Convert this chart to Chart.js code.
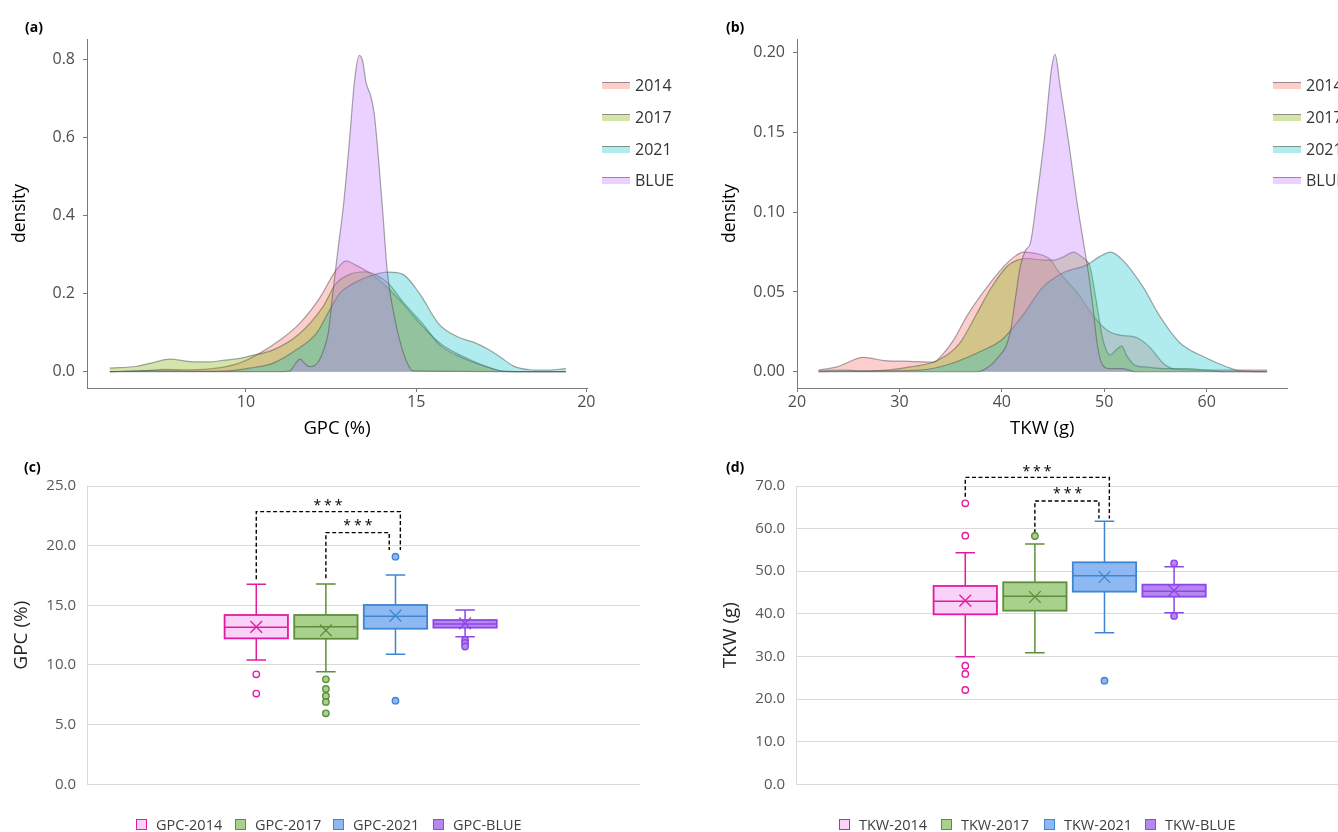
<!DOCTYPE html>
<html>
<head>
<meta charset="utf-8">
<script src="https://cdn.jsdelivr.net/npm/chart.js@4.4.1/dist/chart.umd.min.js"></script>
<style>
  html, body { margin: 0; padding: 0; background: #fff; }
  #fig { position: relative; width: 1338px; height: 832px; overflow: hidden; font-family: 'Open Sans', sans-serif; }
  #fig canvas { position: absolute; }
  .tag { position: absolute; font-weight: bold; font-size: 14px; line-height: 1; color: #000; }
  .dkey { position: absolute; font-size: 16px; line-height: 20px; color: #333; white-space: nowrap; }
  .dkey i { position: absolute; left: -33px; top: 7px; width: 28px; height: 6px; border-top: 1.5px solid rgba(90, 90, 90, 0.6); }
  .bkey { position: absolute; font-size: 14.5px; line-height: 16px; color: #404040; white-space: nowrap; }
  .bkey i { position: absolute; left: -20px; top: 2px; width: 9px; height: 9px; border: 1.5px solid; }
</style>
</head>
<body>
<div id="fig">
  <canvas id="gpcDensity" width="680" height="450" style="left:0;top:0"></canvas>
  <canvas id="tkwDensity" width="680" height="450" style="left:710px;top:0"></canvas>
  <canvas id="gpcBox" width="680" height="382" style="left:0;top:450px"></canvas>
  <canvas id="tkwBox" width="680" height="382" style="left:709px;top:450px"></canvas>
  <div class="tag" style="left:25px;top:20px">(a)</div>
  <div class="tag" style="left:726px;top:20px">(b)</div>
  <div class="tag" style="left:24px;top:460px">(c)</div>
  <div class="tag" style="left:726px;top:460px">(d)</div>
</div>
<script>
const groups = ['2014', '2017', '2021', 'BLUE'];

// (a) GPC density curves
const gpc2014X = [6.0, 7.0, 7.6, 8.3, 9.2, 9.8, 10.4, 11.0, 11.58, 12.16, 12.65, 12.94, 13.23, 13.72, 14.1, 14.6, 15.2, 15.7, 16.4, 17.2, 17.6, 19.4];
const gpc2014Y = [0.0, 0.002, 0.006, 0.005, 0.01, 0.022, 0.047, 0.081, 0.124, 0.188, 0.26, 0.284, 0.273, 0.248, 0.22, 0.175, 0.115, 0.073, 0.038, 0.009, 0.001, 0.0];
const gpc2017X = [6.0, 6.8, 7.3, 7.76, 8.35, 8.9, 9.33, 9.82, 10.1, 10.8, 11.58, 12.26, 12.65, 13.14, 13.5, 13.82, 14.2, 14.6, 15.2, 15.7, 16.4, 17.1, 17.6, 19.4];
const gpc2017Y = [0.009, 0.014, 0.024, 0.032, 0.026, 0.025, 0.029, 0.034, 0.04, 0.056, 0.098, 0.166, 0.226, 0.252, 0.256, 0.248, 0.225, 0.18, 0.122, 0.068, 0.034, 0.012, 0.001, 0.0];
const gpc2021X = [6.0, 7.0, 8.0, 9.0, 9.6, 10.1, 10.8, 11.48, 12.07, 12.46, 12.75, 13.24, 13.9, 14.2, 14.6, 15.1, 15.67, 16.2, 16.7, 17.1, 17.5, 17.85, 18.35, 18.8, 19.4];
const gpc2021Y = [0.0, 0.003, 0.002, 0.001, 0.003, 0.009, 0.022, 0.056, 0.098, 0.158, 0.2, 0.23, 0.252, 0.255, 0.25, 0.2, 0.122, 0.09, 0.075, 0.058, 0.036, 0.015, 0.005, 0.004, 0.008];
const gpcBlueX = [6.0, 11.1, 11.29, 11.45, 11.58, 11.72, 11.87, 12.02, 12.16, 12.3, 12.42, 12.55, 12.7, 12.87, 13.04, 13.19, 13.33, 13.43, 13.53, 13.67, 13.77, 13.87, 14.01, 14.16, 14.4, 14.55, 14.7, 14.9, 19.4];
const gpcBlueY = [0.0, 0.0, 0.002, 0.02, 0.032, 0.022, 0.013, 0.016, 0.03, 0.06, 0.1, 0.2, 0.31, 0.43, 0.59, 0.745, 0.81, 0.795, 0.74, 0.705, 0.66, 0.57, 0.42, 0.25, 0.124, 0.07, 0.03, 0.002, 0.0];
const gpcDensityXTicks = [10, 15, 20];
const gpcDensityYTicks = [0, 0.2, 0.4, 0.6, 0.8];

// (b) TKW density curves
const tkw2014X = [22.1, 23.9, 26.5, 28.5, 31, 33.3, 34.3, 35.3, 36.6, 38.2, 40.2, 41.2, 42.1, 43.4, 44.8, 45.4, 47.3, 49.3, 50.5, 51.5, 53.3, 54.5, 55.8, 57, 60, 63, 65.9];
const tkw2014Y = [0.001, 0.003, 0.009, 0.007, 0.0065, 0.006, 0.0115, 0.02, 0.035, 0.05, 0.066, 0.072, 0.075, 0.074, 0.07, 0.064, 0.05, 0.032, 0.025, 0.023, 0.021, 0.015, 0.005, 0.0015, 0.001, 0.001, 0.001];
const tkw2017X = [22.1, 28.8, 31, 33.7, 35.9, 37.6, 38.9, 40.5, 41.5, 42.5, 44, 45, 46, 47, 47.6, 48.2, 48.6, 49.2, 49.8, 50.3, 50.6, 51.2, 51.7, 52.2, 53, 54, 56, 58, 60, 62, 65.9];
const tkw2017Y = [0.0, 0.001, 0.003, 0.007, 0.018, 0.037, 0.052, 0.066, 0.07, 0.071, 0.07, 0.07, 0.072, 0.075, 0.073, 0.07, 0.066, 0.045, 0.022, 0.012, 0.0105, 0.014, 0.016, 0.01, 0.004, 0.003, 0.002, 0.002, 0.001, 0.0, 0.0];
const tkw2021X = [22.1, 24.5, 27, 32, 35, 38, 40, 42, 44, 46, 48.3, 49.5, 50.6, 51.8, 53.8, 55.4, 57.4, 59.7, 62, 63.3, 65.9];
const tkw2021Y = [0.0005, 0.001, 0.0005, 0.001, 0.005, 0.013, 0.02, 0.035, 0.053, 0.062, 0.067, 0.072, 0.075, 0.07, 0.053, 0.035, 0.018, 0.0094, 0.003, 0.0005, 0.0];
const tkwBlueX = [22.1, 37.5, 38.2, 39.5, 40.8, 41.3, 41.8, 42.3, 42.8, 43.4, 44.2, 44.85, 45.2, 45.67, 46.5, 47.3, 48.1, 48.5, 48.9, 49.3, 49.7, 50.5, 51.8, 53, 65.9];
const tkwBlueY = [0.0, 0.0, 0.001, 0.008, 0.024, 0.045, 0.066, 0.076, 0.081, 0.108, 0.149, 0.19, 0.199, 0.18, 0.145, 0.108, 0.076, 0.06, 0.04, 0.018, 0.006, 0.002, 0.002, 0.0, 0.0];
const tkwDensityXTicks = [20, 30, 40, 50, 60];
const tkwDensityYTicks = [0, 0.05, 0.1, 0.15, 0.2];

// (c) GPC boxes: lower whisker, Q1, median, Q3, upper whisker
const gpcBoxNames = ['GPC-2014', 'GPC-2017', 'GPC-2021', 'GPC-BLUE'];
const gpcBox2014 = [10.42, 12.23, 13.16, 14.19, 16.76];
const gpcBox2017 = [9.44, 12.2, 13.21, 14.19, 16.79];
const gpcBox2021 = [10.89, 13.04, 14.08, 15.03, 17.54];
const gpcBoxBlue = [12.37, 13.13, 13.44, 13.77, 14.61];
const gpcMeans = [13.2, 12.9, 14.13, 13.49];
const gpcOut2014 = [9.22, 7.6];
const gpcOut2017 = [8.8, 7.99, 7.4, 6.9, 5.95];
const gpcOut2021 = [19.08, 7.01];
const gpcOutBlue = [12.1, 11.85, 11.55];
const gpcOuterBracketX = [1, 1, 3.07, 3.07];
const gpcOuterBracketY = [17.18, 22.85, 22.85, 19.64];
const gpcInnerBracketX = [2, 2, 2.91, 2.91];
const gpcInnerBracketY = [17.26, 21.09, 21.09, 19.64];
const gpcStarX = [2.03, 2.46];
const gpcStarY = [23.6, 21.9];
const gpcBoxTicks = [0, 5, 10, 15, 20, 25];

// (d) TKW boxes
const tkwBoxNames = ['TKW-2014', 'TKW-2017', 'TKW-2021', 'TKW-BLUE'];
const tkwBox2014 = [29.95, 39.89, 42.94, 46.54, 54.36];
const tkwBox2017 = [30.89, 40.75, 44.11, 47.4, 56.39];
const tkwBox2021 = [35.59, 45.21, 48.96, 52.09, 61.71];
const tkwBoxBlue = [40.28, 44.03, 45.28, 46.85, 51.07];
const tkwMeans = [43.1, 43.95, 48.65, 45.43];
const tkwOut2014 = [65.93, 58.35, 27.84, 25.89, 22.13];
const tkwOut2017 = [58.27];
const tkwOut2021 = [24.32];
const tkwOutBlue = [51.85, 39.5];
const tkwOuterBracketX = [1, 1, 3.07, 3.07];
const tkwOuterBracketY = [67.5, 72.03, 72.03, 62.4];
const tkwInnerBracketX = [2, 2, 2.92, 2.92];
const tkwInnerBracketY = [58.9, 66.48, 66.48, 62.4];
const tkwStarX = [2.03, 2.47];
const tkwStarY = [73.9, 68.9];
const tkwBoxTicks = [0, 10, 20, 30, 40, 50, 60, 70];

// styling
const densityFills = ['rgba(248,118,109,0.35)', 'rgba(124,174,0,0.33)', 'rgba(0,191,196,0.31)', 'rgba(199,124,255,0.35)'];
const boxStrokes = ['#E31BA0', '#5E8E3A', '#3F86D2', '#8E46E8'];
const boxFills = ['#FAD2F8', '#A9D18E', '#8EB8F2', '#B687F2'];
const outlierFills = ['#FFFFFF', '#A9D18E', '#8EB8F2', '#B687F2'];
const FONT = "'Open Sans', sans-serif";
const BOX_HALF = 0.455;
const CAP_HALF = 0.14;

const pts = (xs, ys) => xs.map((v, k) => ({ x: v, y: ys[k] }));
const fixTicks = list => scale => { scale.ticks = list.map(v => ({ value: v })); };

function densityChart(id, series, xr, yr, xTicks, yTicks, yDec, xTitle, padRight) {
  return new Chart(document.getElementById(id), {
    type: 'line',
    data: {
      datasets: series.map((s, i) => ({
        label: groups[i],
        data: pts(s[0], s[1]),
        fill: 'origin',
        backgroundColor: densityFills[i],
        borderColor: 'rgba(80,80,80,0.5)',
        borderWidth: 1.2,
        pointRadius: 0,
        cubicInterpolationMode: 'monotone',
        order: 3 - i,
      })),
    },
    options: {
      responsive: false,
      animation: false,
      events: [],
      layout: { padding: { left: 0, top: 39, right: padRight, bottom: 0 } },
      plugins: { legend: { display: false }, tooltip: { enabled: false } },
      scales: {
        x: {
          type: 'linear', min: xr[0], max: xr[1],
          afterBuildTicks: fixTicks(xTicks),
          afterFit: s => { s.height = 62; },
          grid: { drawOnChartArea: false, tickLength: 4, color: '#7a7a7a' },
          border: { color: '#7a7a7a', width: 1 },
          ticks: { color: '#4D4D4D', font: { family: FONT, size: 16 }, padding: 1 },
          title: { display: true, text: xTitle, color: '#000', font: { family: FONT, size: 18.5 }, padding: { top: 0, bottom: 10.5 } },
        },
        y: {
          type: 'linear', min: yr[0], max: yr[1],
          afterBuildTicks: fixTicks(yTicks),
          afterFit: s => { s.width = 87; },
          grid: { drawOnChartArea: false, tickLength: 4, color: '#7a7a7a' },
          border: { color: '#7a7a7a', width: 1 },
          ticks: { color: '#4D4D4D', font: { family: FONT, size: 16 }, padding: 8, callback: v => v.toFixed(yDec) },
          title: { display: true, text: 'density', color: '#000', font: { family: FONT, size: 17.5 }, padding: { top: 9.5, bottom: 0 } },
        },
      },
    },
  });
}

function boxPlugin(boxes, starX, starY) {
  return {
    id: 'boxes',
    beforeDatasetsDraw(chart) {
      const { ctx, scales: { x, y } } = chart;
      ctx.save();
      boxes.forEach((b, i) => {
        const [lo, q1, med, q3, hi] = b.map(v => y.getPixelForValue(v));
        const cx = x.getPixelForValue(i + 1);
        const hw = x.getPixelForValue(i + 1 + BOX_HALF) - cx;
        const cw = x.getPixelForValue(i + 1 + CAP_HALF) - cx;
        ctx.strokeStyle = boxStrokes[i];
        ctx.lineWidth = 1.5;
        ctx.beginPath();
        ctx.moveTo(cx, hi); ctx.lineTo(cx, q3);
        ctx.moveTo(cx, q1); ctx.lineTo(cx, lo);
        ctx.moveTo(cx - cw, hi); ctx.lineTo(cx + cw, hi);
        ctx.moveTo(cx - cw, lo); ctx.lineTo(cx + cw, lo);
        ctx.stroke();
        ctx.fillStyle = boxFills[i];
        ctx.fillRect(cx - hw, q3, 2 * hw, q1 - q3);
        ctx.lineWidth = 1.8;
        ctx.strokeRect(cx - hw, q3, 2 * hw, q1 - q3);
        ctx.lineWidth = 1.5;
        ctx.beginPath();
        ctx.moveTo(cx - hw, med); ctx.lineTo(cx + hw, med);
        ctx.stroke();
      });
      ctx.restore();
    },
    afterDatasetsDraw(chart) {
      const { ctx, scales: { x, y } } = chart;
      ctx.save();
      ctx.fillStyle = '#000';
      ctx.font = '14px ' + FONT;
      ctx.textAlign = 'center';
      ctx.textBaseline = 'middle';
      ctx.letterSpacing = '3px';
      starX.forEach((sx, k) => {
        ctx.fillText('***', x.getPixelForValue(sx) + 1.5, y.getPixelForValue(starY[k]) + 3);
      });
      ctx.restore();
    },
  };
}

function boxChart(id, boxes, means, outliers, brackets, starX, starY, yMax, yTicks, yTitle) {
  const datasets = [];
  outliers.forEach((list, i) => {
    datasets.push({
      data: list.map(v => ({ x: i + 1, y: v })),
      pointStyle: 'circle', pointRadius: 3.2, borderWidth: 1.4,
      borderColor: boxStrokes[i], backgroundColor: outlierFills[i], clip: false,
    });
  });
  datasets.push({
    data: means.map((v, i) => ({ x: i + 1, y: v })),
    pointStyle: 'crossRot', pointRadius: 8.3, borderWidth: 1.3,
    borderColor: boxStrokes, backgroundColor: boxStrokes, clip: false,
  });
  brackets.forEach(([bx, by]) => {
    datasets.push({
      data: pts(bx, by), showLine: true, pointRadius: 0,
      borderColor: '#000', borderWidth: 1.4, borderDash: [4, 2.5], clip: false,
    });
  });
  return new Chart(document.getElementById(id), {
    type: 'scatter',
    data: { datasets },
    options: {
      responsive: false,
      animation: false,
      events: [],
      layout: { padding: { left: 0, top: 36, right: 40, bottom: 47.7 } },
      plugins: { legend: { display: false }, tooltip: { enabled: false } },
      scales: {
        x: { type: 'linear', min: -1.432, max: 6.513, display: false },
        y: {
          type: 'linear', min: 0, max: yMax,
          afterBuildTicks: fixTicks(yTicks),
          afterFit: s => { s.width = 87; },
          grid: { color: '#D9D9D9', drawTicks: false, lineWidth: 1 },
          border: { color: '#D9D9D9', width: 1 },
          ticks: { color: '#595959', font: { family: FONT, size: 15 }, padding: 11, callback: v => v.toFixed(1) },
          title: { display: true, text: yTitle, color: '#262626', font: { family: FONT, size: 19 }, padding: { top: 10.6, bottom: 0 } },
        },
      },
    },
    plugins: [boxPlugin(boxes, starX, starY)],
  });
}

function densityLegend(left) {
  const tops = [75, 107, 139, 170];
  groups.forEach((g, i) => {
    const d = document.createElement('div');
    d.className = 'dkey';
    d.style.left = left + 'px';
    d.style.top = tops[i] + 'px';
    d.innerHTML = '<i style="background:' + densityFills[i] + '"></i>' + g;
    document.getElementById('fig').appendChild(d);
  });
}

function boxLegend(names, lefts) {
  names.forEach((n, i) => {
    const d = document.createElement('div');
    d.className = 'bkey';
    d.style.left = lefts[i] + 'px';
    d.style.top = '817px';
    d.innerHTML = '<i style="background:' + boxFills[i] + ';border-color:' + boxStrokes[i] + '"></i>' + n;
    document.getElementById('fig').appendChild(d);
  });
}

densityChart('gpcDensity',
  [[gpc2014X, gpc2014Y], [gpc2017X, gpc2017Y], [gpc2021X, gpc2021Y], [gpcBlueX, gpcBlueY]],
  [5.33, 20.02], [-0.0417, 0.852], gpcDensityXTicks, gpcDensityYTicks, 1, 'GPC (%)', 93);
densityChart('tkwDensity',
  [[tkw2014X, tkw2014Y], [tkw2017X, tkw2017Y], [tkw2021X, tkw2021Y], [tkwBlueX, tkwBlueY]],
  [20, 67.9], [-0.0102, 0.2086], tkwDensityXTicks, tkwDensityYTicks, 2, 'TKW (g)', 102.4);

boxChart('gpcBox', [gpcBox2014, gpcBox2017, gpcBox2021, gpcBoxBlue], gpcMeans,
  [gpcOut2014, gpcOut2017, gpcOut2021, gpcOutBlue],
  [[gpcOuterBracketX, gpcOuterBracketY], [gpcInnerBracketX, gpcInnerBracketY]],
  gpcStarX, gpcStarY, 25, gpcBoxTicks, 'GPC (%)');
boxChart('tkwBox', [tkwBox2014, tkwBox2017, tkwBox2021, tkwBoxBlue], tkwMeans,
  [tkwOut2014, tkwOut2017, tkwOut2021, tkwOutBlue],
  [[tkwOuterBracketX, tkwOuterBracketY], [tkwInnerBracketX, tkwInnerBracketY]],
  tkwStarX, tkwStarY, 70, tkwBoxTicks, 'TKW (g)');

densityLegend(635);
densityLegend(1306);
boxLegend(gpcBoxNames, [156, 255, 353, 453]);
boxLegend(tkwBoxNames, [859, 961, 1064, 1165]);
</script>
</body>
</html>
